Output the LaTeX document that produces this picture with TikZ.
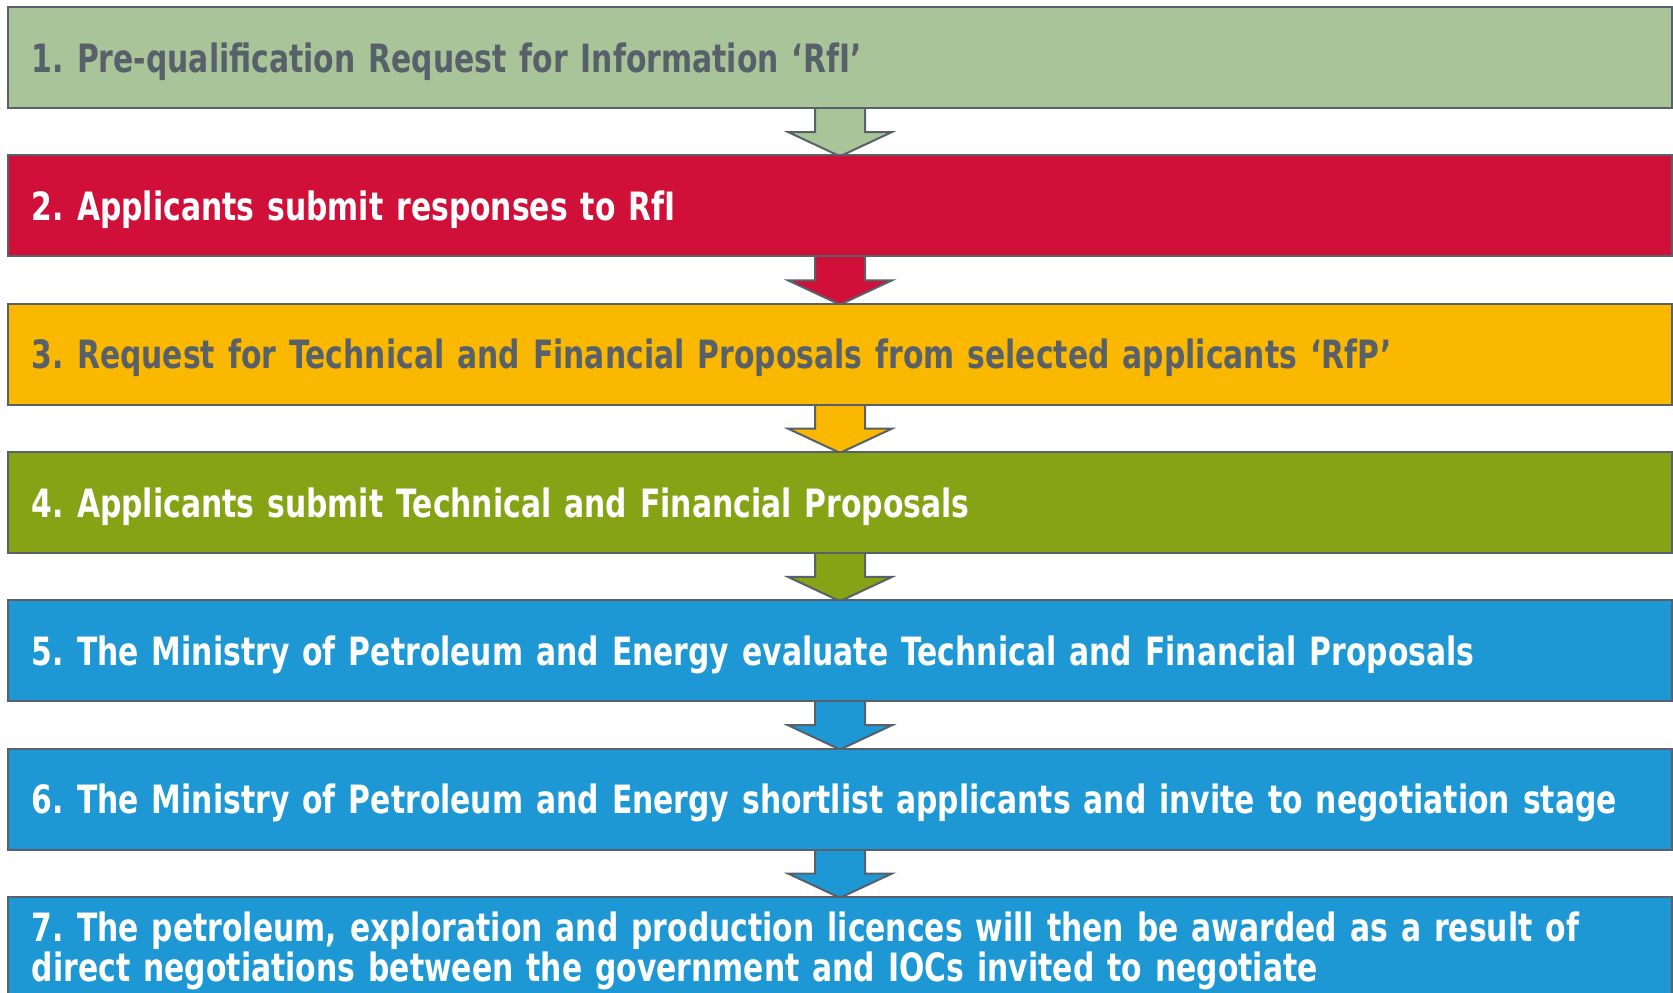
\documentclass[tikz,border=0pt]{standalone}
\usepackage{fontspec}
\newfontfamily\stepfont[FakeStretch=0.765]{DejaVu Sans}
\usetikzlibrary{calc, positioning}

\definecolor{rfiGreen}{HTML}{A9C499}
\definecolor{rfiRed}{HTML}{D11039}
\definecolor{rfpYellow}{HTML}{FBB800}
\definecolor{propOlive}{HTML}{86A316}
\definecolor{mpeBlue}{HTML}{1D98D5}
\definecolor{edgeGray}{HTML}{58606A}

\tikzset{
  stepbox/.style={draw=edgeGray, line width=1pt, rectangle, anchor=north west,
    minimum width=832pt, minimum height=50.5pt, inner xsep=12pt, inner ysep=0pt,
    outer sep=0pt, text width=808pt, align=left, text depth=0pt,
    font=\stepfont\bfseries\fontsize{19.5}{20.2}\selectfont\frenchspacing},
  flow/.style={draw=edgeGray, line width=1pt, line join=miter},
}

\begin{document}
\begin{tikzpicture}[x=0.5pt, y=-0.5pt]
	\useasboundingbox (0,0) rectangle (1673,992);
	\clip (0,0) rectangle (1673,992);

	% arrows first, boxes go over them
	\coordinate (a1) at (840,108);
	\coordinate (a2) at (840,256.3);
	\coordinate (a3) at (840,404.6);
	\coordinate (a4) at (840,552.9);
	\coordinate (a5) at (840,701.2);
	\coordinate (a6) at (840,849.5);
	\foreach \i/\col in {1/rfiGreen, 2/rfiRed, 3/rfpYellow, 4/propOlive, 5/mpeBlue, 6/mpeBlue}
		\draw[flow, fill=\col] ($(a\i)+(-25,0)$) -- ++(0,24) -- ++(-27,0) -- ($(a\i)+(0,48.3)$)
			-- ($(a\i)+(52,24)$) -- ++(-27,0) -- ($(a\i)+(25,0)$);

	\node[stepbox, fill=rfiGreen, text=edgeGray]	(b1) at (8,7)	{1. Pre-qualification Request for Information ‘RfI’};
	\node[stepbox, fill=rfiRed, text=white]	(b2) at (8,155.3)	{2. Applicants submit responses to RfI};
	\node[stepbox, fill=rfpYellow, text=edgeGray]	(b3) at (8,303.6)	{3. Request for Technical and Financial Proposals from selected applicants ‘RfP’};
	\node[stepbox, fill=propOlive, text=white]	(b4) at (8,451.9)	{4. Applicants submit Technical and Financial Proposals};
	\node[stepbox, fill=mpeBlue, text=white]	(b5) at (8,600.2)	{5. The Ministry of Petroleum and Energy evaluate Technical and Financial Proposals};
	\node[stepbox, fill=mpeBlue, text=white]	(b6) at (8,748.5)	{6. The Ministry of Petroleum and Energy shortlist applicants and invite to negotiation stage};
	\node[stepbox, fill=mpeBlue, text=white, text depth=20.8pt]	(b7) at (8,896.8)	{7. The petroleum, exploration and production licences will then be awarded as a result of\\direct negotiations between the government and IOCs invited to negotiate};
\end{tikzpicture}
\end{document}
